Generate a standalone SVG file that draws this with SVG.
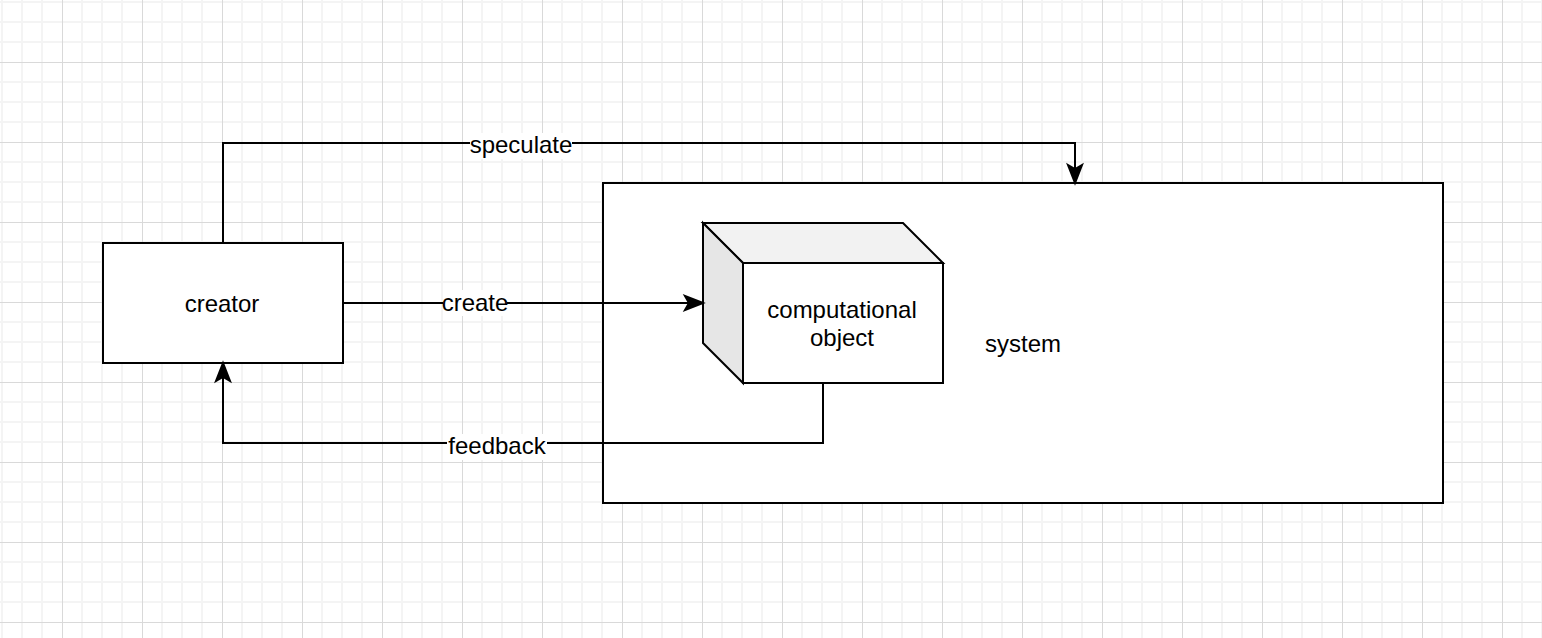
<svg xmlns="http://www.w3.org/2000/svg" width="1542" height="638" viewBox="0 0 1542 638">
  <style>
    .shape { fill: #ffffff; stroke: #000000; stroke-width: 2; }
    .edge { fill: none; stroke: #000000; stroke-width: 2; }
    .head { fill: #000000; stroke: #000000; stroke-width: 2; stroke-linejoin: miter; }
    .txt { font-family: "Liberation Sans", Arial, Helvetica, sans-serif; font-size: 24px; fill: #000000; text-anchor: middle; }
    .lblbg { fill: #ffffff; }
  </style>
  <defs>
    <pattern id="grid" patternUnits="userSpaceOnUse" x="0" y="0" width="80" height="80">
      <g stroke="#f4f4f4" stroke-width="2">
        <line x1="2" y1="0" x2="2" y2="80"/>
        <line x1="22" y1="0" x2="22" y2="80"/>
        <line x1="42" y1="0" x2="42" y2="80"/>
        <line x1="0" y1="2" x2="80" y2="2"/>
        <line x1="0" y1="22" x2="80" y2="22"/>
        <line x1="0" y1="42" x2="80" y2="42"/>
      </g>
      <g stroke="#d9d9d9" stroke-width="1">
        <line x1="62.5" y1="0" x2="62.5" y2="80"/>
        <line x1="0" y1="62.5" x2="80" y2="62.5"/>
      </g>
    </pattern>
  </defs>
  <rect x="0" y="0" width="1542" height="638" fill="#ffffff"/>
  <rect x="0" y="0" width="1542" height="638" fill="url(#grid)"/>

  <g id="system">
    <rect class="shape" x="603" y="183" width="840" height="320"/>
    <text class="txt" x="1023" y="351.5">system</text>
  </g>

  <g id="creator">
    <rect class="shape" x="103" y="243" width="240" height="120"/>
    <text class="txt" x="222" y="311.5">creator</text>
  </g>

  <g id="computational-object">
    <polygon points="703,223 903,223 943,263 743,263" fill="#f2f2f2" stroke="#000" stroke-width="2" stroke-linejoin="miter"/>
    <polygon points="703,223 743,263 743,383 703,343" fill="#e6e6e6" stroke="#000" stroke-width="2" stroke-linejoin="miter"/>
    <rect class="shape" x="743" y="263" width="200" height="120"/>
    <text class="txt" x="842" y="317.5">computational</text>
    <text class="txt" x="842" y="346">object</text>
  </g>

  <g id="connectors">
    <g id="edge-speculate">
      <path class="edge" d="M223,243 V143 H1075 V168"/>
      <path class="head" d="M1075,183 L1068,165 L1075,169 L1082,165 Z"/>
      <rect class="lblbg" x="470" y="133" width="102" height="26"/>
      <text class="txt" x="521" y="153">speculate</text>
    </g>
    <g id="edge-create">
      <path class="edge" d="M343,303 H688"/>
      <path class="head" d="M703,303 L685,296 L689,303 L685,310 Z"/>
      <rect class="lblbg" x="443" y="290" width="64" height="26"/>
      <text class="txt" x="475" y="310.5">create</text>
    </g>
    <g id="edge-feedback">
      <path class="edge" d="M823,383 V443 H223 V378"/>
      <path class="head" d="M223,363 L216,381 L223,377 L230,381 Z"/>
      <rect class="lblbg" x="447" y="434" width="100" height="26"/>
      <text class="txt" x="497" y="454">feedback</text>
    </g>
  </g>
</svg>
